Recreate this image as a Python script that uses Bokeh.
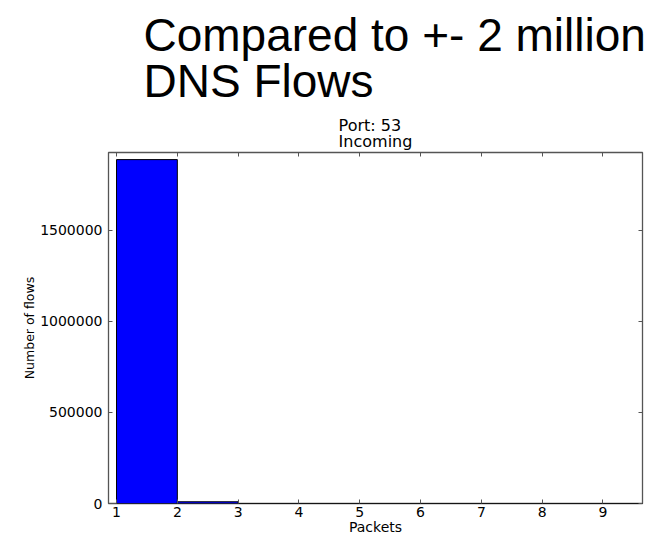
from bokeh.plotting import figure
from bokeh.models import Range1d, FixedTicker, LinearAxis, Title, BasicTickFormatter
from bokeh.embed import file_html
from bokeh.resources import INLINE

# Data
bin_edges = [1, 2, 3, 4, 5, 6, 7, 8, 9, 10]
flow_counts = [1889000, 9500, 0, 0, 0, 0, 0, 0, 0]
x_ticks = [1, 2, 3, 4, 5, 6, 7, 8, 9]
y_ticks = [0, 500000, 1000000, 1500000]
heading = "Compared to +- 2 million\nDNS Flows"
subplot_title = "Port: 53\nIncoming"
x_label = "Packets"
y_label = "Number of flows"

FRAME = "#555555"
FONT = "DejaVu Sans"

p = figure(width=653, height=537, output_backend="svg", toolbar_location=None,
           x_range=Range1d(0.868, 9.65), y_range=Range1d(0, 1928000),
           min_border_left=108, min_border_right=11, min_border_top=140,
           min_border_bottom=31, title=None)
p.xgrid.visible = False
p.ygrid.visible = False
p.outline_line_color = FRAME
p.outline_line_width = 1.3
p.background_fill_color = "white"
p.border_fill_color = "white"

p.quad(left=bin_edges[:-1], right=bin_edges[1:], top=flow_counts, bottom=0,
       fill_color="#0000ff", line_color="#000000", line_width=1)

def style_axis(ax):
    ax.axis_line_color = None
    ax.major_tick_in = 4
    ax.major_tick_out = 0
    ax.minor_tick_line_color = None
    ax.major_tick_line_color = FRAME
    ax.major_label_text_font = FONT
    ax.major_label_text_font_size = "14px"
    ax.major_label_text_color = "black"
    ax.axis_label_text_font = FONT
    ax.axis_label_text_font_style = "normal"
    ax.axis_label_text_color = "black"

xa = p.xaxis[0]
xa.ticker = FixedTicker(ticks=x_ticks)
style_axis(xa)
xa.major_label_standoff = 3
xa.major_label_text_line_height = 1.0
xa.axis_label = x_label
xa.axis_label_text_font_size = "14px"
xa.axis_label_text_line_height = 1.0
xa.axis_label_standoff = -1

ya = p.yaxis[0]
ya.ticker = FixedTicker(ticks=y_ticks)
ya.formatter = BasicTickFormatter(use_scientific=False)
style_axis(ya)
ya.major_label_standoff = 6
ya.axis_label = y_label
ya.axis_label_text_font_size = "12.5px"
ya.axis_label_standoff = 0

def mirror_axis(ticks):
    ax = LinearAxis(ticker=FixedTicker(ticks=[], minor_ticks=ticks))
    ax.axis_line_color = None
    ax.major_tick_line_color = None
    ax.minor_tick_in = 4
    ax.minor_tick_out = 0
    ax.minor_tick_line_color = FRAME
    ax.major_label_standoff = 0
    ax.axis_label_standoff = 0
    return ax

p.add_layout(mirror_axis(x_ticks), "above")
p.add_layout(mirror_axis(y_ticks), "right")

p.add_layout(Title(text=subplot_title, align="center", text_font=FONT,
                   text_font_size="16px", text_font_style="normal", text_color="black",
                   text_line_height=0.86, standoff=2), "above")
p.add_layout(Title(text=heading, align="left", offset=35, text_font="Liberation Sans",
                   text_font_size="46px", text_font_style="normal", text_color="black",
                   text_line_height=0.895, standoff=12), "above")

open("out.html", "w").write(file_html(p, INLINE))
